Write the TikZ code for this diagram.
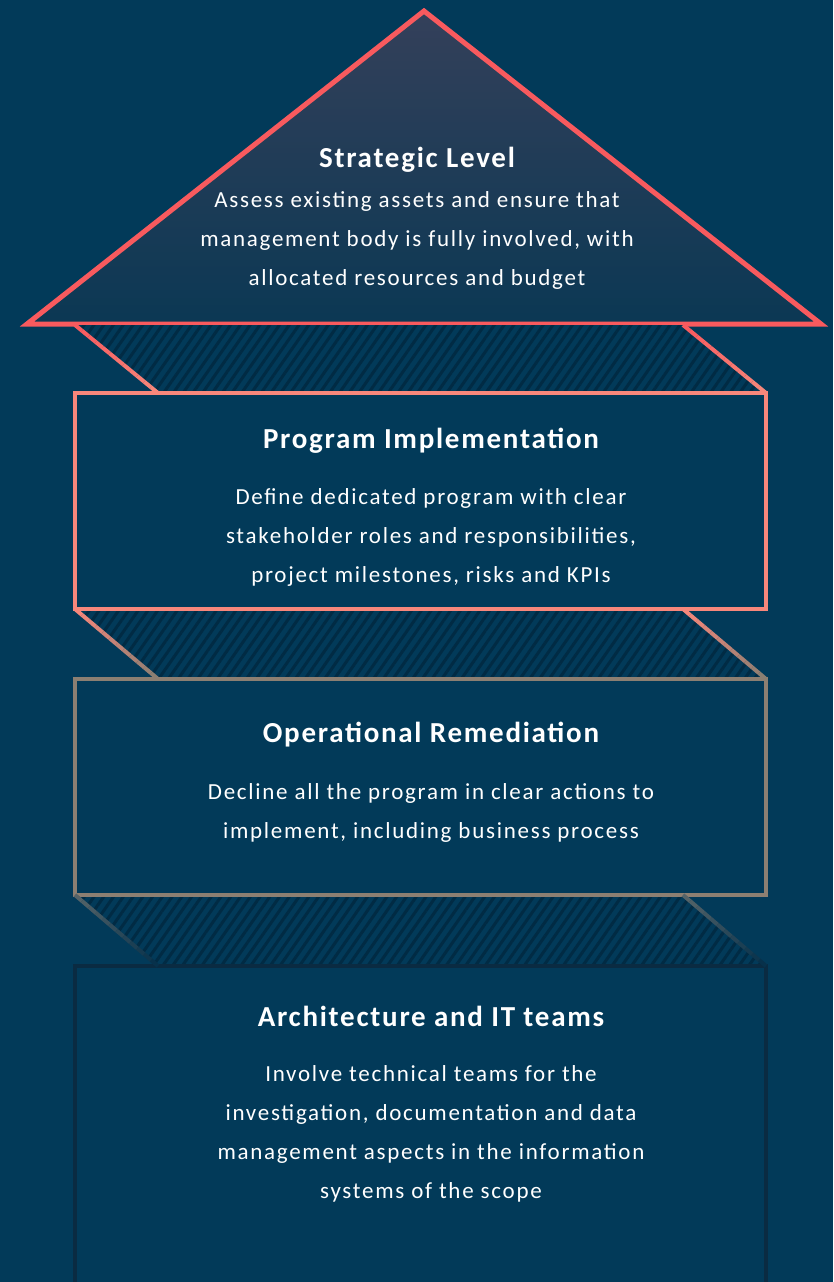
\documentclass[tikz,border=0pt]{standalone}
\usepackage{fontspec}
\setmainfont{Carlito}
\usepackage{xcolor}
\usetikzlibrary{calc,patterns.meta}

\definecolor{navy}{HTML}{023A59}
\definecolor{stripe}{HTML}{012B44}
\definecolor{coral}{HTML}{F85A5E}
\definecolor{salmon}{HTML}{F7877B}
\definecolor{taupe}{HTML}{8C7F72}
\definecolor{deepnavy}{HTML}{0A2B42}
\definecolor{peaktop}{HTML}{34405A}
\definecolor{peakbase}{HTML}{0B3854}

% slanted edge whose colour fades from #3 (at #1) to #4 (at #2)
\newcommand\fadeedge[4]{%
  \foreach \k in {0,...,11} {
    \pgfmathsetmacro\fa{\k/12}
    \pgfmathsetmacro\fb{(\k+1)/12}
    \pgfmathsetmacro\pc{100-100*\k/11}
    \draw [line width=4pt, color={#3!\pc!#4}] ($(#1)!\fa!(#2)$) -- ($(#1)!\fb!(#2)$);
  }%
}

\begin{document}
\begin{tikzpicture}[x=1pt, y=-1pt,
  title/.style={text=white, font=\fontsize{29}{34}\selectfont\bfseries\addfontfeatures{LetterSpace=6}, anchor=base},
  body/.style={text=white, font=\fontsize{23}{38.8}\selectfont\addfontfeatures{LetterSpace=7.5}, align=center, anchor=base},
  hatch/.style={pattern={Lines[angle=55, distance=8pt, line width=3pt]}, pattern color=stripe},
  tier/.style={line width=4pt}]

\fill [navy] (0,0) rectangle (833,1282);
\useasboundingbox (0,0) rectangle (833,1282);

% top level
\shade [top color=peaktop, bottom color=peakbase] (424,11) -- (821,324) -- (27,324) -- cycle;
\draw [coral, line width=5pt] (424,11) -- (821,324) -- (27,324) -- cycle;

% hatched links
\fill [navy] (75,325) -- (683,325) -- (766,393) -- (158,393) -- cycle;
\fill [hatch] (75,325) -- (683,325) -- (766,393) -- (158,393) -- cycle;
\fill [navy] (75,609) -- (683,609) -- (766,679) -- (158,679) -- cycle;
\fill [hatch] (75,609) -- (683,609) -- (766,679) -- (158,679) -- cycle;
\fill [navy] (75,895) -- (683,895) -- (766,966) -- (158,966) -- cycle;
\fill [hatch] (75,895) -- (683,895) -- (766,966) -- (158,966) -- cycle;

% tiers
\draw [tier, salmon] (75,393) rectangle (766,609);
\draw [tier, taupe] (75,679) rectangle (766,895);
\draw [tier, deepnavy, line width=3.5pt] (75,966) rectangle (766,1300);

\coordinate (l1a) at (75,325);  \coordinate (l1b) at (158,393);
\coordinate (r1a) at (683,325); \coordinate (r1b) at (766,393);
\coordinate (l2a) at (75,609);  \coordinate (l2b) at (158,679);
\coordinate (r2a) at (683,609); \coordinate (r2b) at (766,679);
\coordinate (l3a) at (75,895);  \coordinate (l3b) at (158,966);
\coordinate (r3a) at (683,895); \coordinate (r3b) at (766,966);
\fadeedge{l1a}{l1b}{coral}{salmon}
\fadeedge{r1a}{r1b}{coral}{salmon}
\fadeedge{l2a}{l2b}{salmon}{taupe}
\fadeedge{r2a}{r2b}{salmon}{taupe}
\fadeedge{l3a}{l3b}{taupe}{deepnavy!60!navy}
\fadeedge{r3a}{r3b}{taupe}{deepnavy!60!navy}

% texts (body nodes sit on the baseline of their last line)
\node [title] (strat) at (417,167) {Strategic Level};
\node [body] (stratbody) at (417,285) {Assess existing assets and ensure that\\management  body is fully involved, with\\allocated resources and budget};

\node [title] (prog) at (431,448) {Program Implementation};
\node [body] (progbody) at (431,582) {Define dedicated program with clear\\stakeholder roles and responsibilities,\\project milestones, risks and KPIs};

\node [title] (oper) at (431,742) {Operational Remediation};
\node [body] (operbody) at (431,838) {Decline all the program in clear actions to\\implement, including business process};

\node [title] (arch) at (431,1026) {Architecture and IT teams};
\node [body] (archbody) at (431,1198) {Involve technical teams for the\\investigation, documentation and data\\management  aspects in the information\\systems of the scope};
\end{tikzpicture}
\end{document}
